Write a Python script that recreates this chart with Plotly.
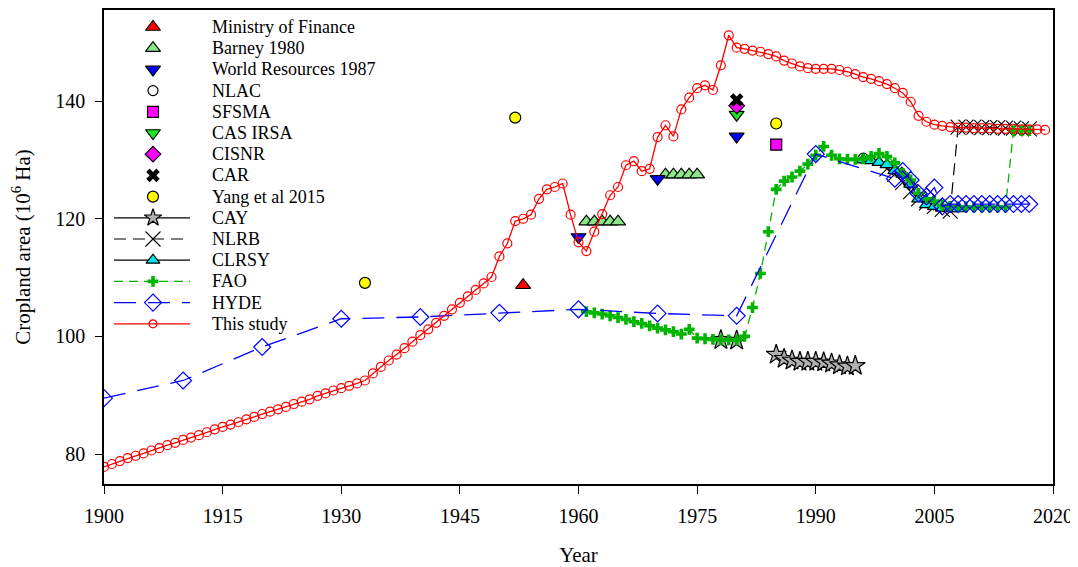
import plotly.graph_objects as go

# ---------------- data ----------------
study_years = list(range(1900, 2020))
study_vals = [
    77.8, 78.3, 78.8, 79.3, 79.7, 80.1, 80.6, 81.0, 81.5, 81.9,
    82.4, 82.8, 83.2, 83.7, 84.2, 84.6, 85.0, 85.4, 85.9, 86.3,
    86.8, 87.2, 87.6, 88.0, 88.5, 88.9, 89.3, 89.9, 90.3, 90.8,
    91.2, 91.6, 92.0, 92.5, 93.7, 94.8, 95.9, 96.9, 98.0, 99.1,
    100.2, 101.2, 102.3, 103.5, 104.6, 105.7, 106.8, 107.9, 109.0, 110.1,
    113.6, 115.8, 119.6, 120.0, 120.7, 123.4, 125.0, 125.4, 126.0, 120.7,
    116.0, 114.5, 117.8, 120.8, 124.0, 125.4, 129.1, 129.8, 128.1, 128.5,
    133.9, 135.9, 134.0, 138.6, 140.6, 142.2, 142.7, 141.9, 146.1, 151.2,
    149.1, 148.9, 148.6, 148.4, 148.0, 147.6, 146.9, 146.4, 145.9, 145.6,
    145.5, 145.5, 145.5, 145.3, 145.0, 144.6, 144.1, 143.8, 143.4, 142.9,
    142.2, 141.4, 139.9, 137.5, 136.5, 136.0, 135.8, 135.6, 135.5, 135.5,
    135.4, 135.4, 135.4, 135.3, 135.3, 135.3, 135.2, 135.2, 135.2, 135.1,
]

hyde_years = [1900, 1910, 1920, 1930, 1940, 1950, 1960, 1970, 1980, 1990,
              2000, 2001, 2002, 2003, 2004, 2005, 2006, 2007, 2008, 2009,
              2010, 2011, 2012, 2013, 2014, 2015, 2016, 2017]
hyde_vals = [89.5, 92.5, 98.2, 103.0, 103.3, 104.0, 104.6, 103.9, 103.5, 131.0,
             126.8, 128.1, 126.6, 124.3, 123.8, 125.3, 122.1, 122.5, 122.5, 122.5,
             122.5, 122.5, 122.5, 122.5, 122.5, 122.5, 122.5, 122.5]

fao_years = list(range(1961, 2018))
fao_vals = [
    104.2, 104.0, 103.8, 103.5, 103.2, 102.9, 102.5, 102.2, 101.8, 101.4,
    101.1, 100.8, 100.4, 101.2, 99.7, 99.6, 99.5, 99.4, 99.4, 99.4,
    100.0, 104.9, 110.7, 117.8, 125.0, 126.4, 127.1, 128.1, 129.3, 130.8,
    132.3, 130.8, 130.2, 130.1, 130.1, 130.2, 130.6, 131.1, 130.6, 129.5,
    127.7, 126.6, 124.3, 123.4, 123.0, 122.3, 122.1, 122.0, 122.0, 122.0,
    122.0, 122.0, 122.0, 122.0, 135.0, 135.0, 135.0,
]

clrsy_years = list(range(1996, 2009))
clrsy_vals = [130.0, 129.9, 129.6, 129.2, 128.2, 127.6, 125.9, 123.4, 122.4,
              122.1, 121.8, 121.7, 121.7]

nlrb_years = list(range(1999, 2018))
nlrb_vals = [128.5, 127.6, 126.2, 124.6, 123.4, 122.7, 122.1, 121.6, 121.3,
             135.6, 135.6, 135.6, 135.5, 135.5, 135.5, 135.4, 135.4, 135.3, 135.3]

cay_years = [1978, 1980, 1981, 1985, 1986, 1987, 1988, 1989, 1990, 1991,
             1992, 1993, 1994, 1995]
cay_vals = [99.4, 99.3, None, 96.9, 96.2, 95.9, 95.7, 95.7, 95.7, 95.6,
            95.4, 95.1, 94.9, 95.0]

mof_years, mof_vals = [1953], [108.7]
barney_years = [1961, 1962, 1963, 1964, 1965, 1971, 1972, 1973, 1974, 1975]
barney_vals = [119.5, 119.5, 119.5, 119.5, 119.5, 127.5, 127.5, 127.5, 127.5, 127.5]
wr_years, wr_vals = [1960, 1970, 1980], [116.9, 126.8, 134.0]
nlac_years, nlac_vals = [1996], [130.3]
sfsma_years, sfsma_vals = [1985], [132.6]
casirsa_years, casirsa_vals = [1980], [137.7]
cisnr_years, cisnr_vals = [1980], [139.2]
car_years, car_vals = [1980], [140.2]
yang_years, yang_vals = [1933, 1952, 1985], [109.1, 137.2, 136.2]

x_ticks = [1900, 1915, 1930, 1945, 1960, 1975, 1990, 2005, 2020]
y_ticks = [80, 100, 120, 140]

# ---------------- styles ----------------
FONT = "Liberation Serif, Times New Roman, serif"
PAGE_OFF = 8                      # default page margin of the html body
W, H = 1078 - PAGE_OFF, 567 - PAGE_OFF
PLOT_L, PLOT_T = 104, 10          # plot area position on the screen
ML, MT = PLOT_L - PAGE_OFF, PLOT_T - PAGE_OFF
MR, MB = 25, 83
PW, PH = W - ML - MR, H - MT - MB

series = [
    # name, x, y, marker, line (None = markers only)
    ("Ministry of Finance", mof_years, mof_vals,
     dict(symbol="triangle-up", color="#ff0000", size=13, line=dict(color="black", width=1.2)), None),
    ("Barney 1980", barney_years, barney_vals,
     dict(symbol="triangle-up", color="#88e888", size=13, line=dict(color="black", width=1.2)), None),
    ("World Resources 1987", wr_years, wr_vals,
     dict(symbol="triangle-down", color="#0000ff", size=13, line=dict(color="black", width=1.2)), None),
    ("NLAC", nlac_years, nlac_vals,
     dict(symbol="circle", color="white", size=10, line=dict(color="black", width=1.2)), None),
    ("SFSMA", sfsma_years, sfsma_vals,
     dict(symbol="square", color="#ff00ff", size=11, line=dict(color="black", width=1.2)), None),
    ("CAS IRSA", casirsa_years, casirsa_vals,
     dict(symbol="triangle-down", color="#22e022", size=13, line=dict(color="black", width=1.2)), None),
    ("CISNR", cisnr_years, cisnr_vals,
     dict(symbol="diamond", color="#ff00ff", size=12, line=dict(color="black", width=1.2)), None),
    ("CAR", car_years, car_vals,
     dict(symbol="x", color="black", size=12, line=dict(width=0)), None),
    ("Yang et al 2015", yang_years, yang_vals,
     dict(symbol="circle", color="#ffff00", size=11, line=dict(color="black", width=1.2)), None),
    ("CAY", cay_years, cay_vals,
     dict(symbol="star", color="#b0b0b0", size=15, line=dict(color="black", width=1.2)),
     dict(color="black", width=1.2)),
    ("NLRB", nlrb_years, nlrb_vals,
     dict(symbol="x-thin-open", color="black", size=15, line=dict(color="black", width=1.1)),
     dict(color="black", width=1.2, dash="12px,7px")),
    ("CLRSY", clrsy_years, clrsy_vals,
     dict(symbol="triangle-up", color="#00e8f0", size=12, line=dict(color="black", width=1.2)),
     dict(color="black", width=1.2)),
    ("FAO", fao_years, fao_vals,
     dict(symbol="cross", color="#00b400", size=9, line=dict(width=0)),
     dict(color="#00b400", width=1.3, dash="9px,6px")),
    ("HYDE", hyde_years, hyde_vals,
     dict(symbol="diamond-open", color="#0000ff", size=13, line=dict(color="#0000ff", width=1.2)),
     dict(color="#0000ff", width=1.3, dash="22px,12px")),
    ("This study", study_years, study_vals,
     dict(symbol="circle-open", color="#ff0000", size=9, line=dict(color="#ff0000", width=1.2)),
     dict(color="#ff0000", width=1.3)),
]

fig = go.Figure()

# data traces
for name, xs, ys, mk, ln in series:
    if ln is None:
        fig.add_trace(go.Scatter(x=xs, y=ys, name=name, mode="markers",
                                 marker=mk, showlegend=False))
    else:
        fig.add_trace(go.Scatter(x=xs, y=ys, name=name, mode="lines+markers",
                                 marker=mk, line=ln, connectgaps=False,
                                 showlegend=False))

# legend (drawn in pixel units of the plot area on an overlay axis pair)
LEG_X0, LEG_XC, LEG_X1, LEG_TX = 114 - PLOT_L, 153 - PLOT_L, 190 - PLOT_L, 210 - PLOT_L
LEG_Y0, LEG_DY = 27 - PLOT_T, 21.2
annotations = []
for i, (name, xs, ys, mk, ln) in enumerate(series):
    yy = LEG_Y0 + i * LEG_DY
    if ln is not None:
        fig.add_trace(go.Scatter(x=[LEG_X0, LEG_X1], y=[yy, yy], mode="lines",
                                 line=ln, xaxis="x2", yaxis="y2",
                                 showlegend=False, hoverinfo="skip"))
    lm = dict(mk)
    if name == "This study":
        lm["size"] = 8
    if name == "CAY":
        lm["size"] = 13
    fig.add_trace(go.Scatter(x=[LEG_XC], y=[yy], mode="markers", marker=lm,
                             xaxis="x2", yaxis="y2", showlegend=False,
                             hoverinfo="skip"))
    annotations.append(dict(x=LEG_TX, y=yy, xref="x2", yref="y2", text=name,
                            showarrow=False, xanchor="left", yanchor="middle",
                            font=dict(family=FONT, size=18, color="black")))

fig.update_layout(
    width=W, height=H,
    margin=dict(l=ML, r=MR, t=MT, b=MB),
    paper_bgcolor="white", plot_bgcolor="white",
    font=dict(family=FONT, size=20, color="black"),
    showlegend=False,
    annotations=annotations,
    xaxis=dict(
        range=[1900, 2020], tickvals=x_ticks, automargin=False,
        ticks="outside", ticklen=8, tickwidth=1.2, tickcolor="black",
        showline=True, linecolor="black", linewidth=1.5, mirror=True,
        showgrid=False, zeroline=False,
        ticklabelstandoff=5,
        title=dict(text="Year", standoff=36, font=dict(size=21)),
    ),
    yaxis=dict(
        range=[74.9, 155.5], tickvals=y_ticks, automargin=False,
        ticks="outside", ticklen=7, tickwidth=1.2, tickcolor="black",
        showline=True, linecolor="black", linewidth=1.5, mirror=True,
        showgrid=False, zeroline=False,
        ticklabelstandoff=6,
        title=dict(text="Cropland area (10<sup>6</sup> Ha)", standoff=20,
                   font=dict(size=21)),
    ),
    xaxis2=dict(overlaying="x", range=[0, PW], visible=False, fixedrange=True,
                automargin=False),
    yaxis2=dict(overlaying="y", range=[PH, 0], visible=False, fixedrange=True,
                automargin=False),
)

fig.write_html("out.html")
